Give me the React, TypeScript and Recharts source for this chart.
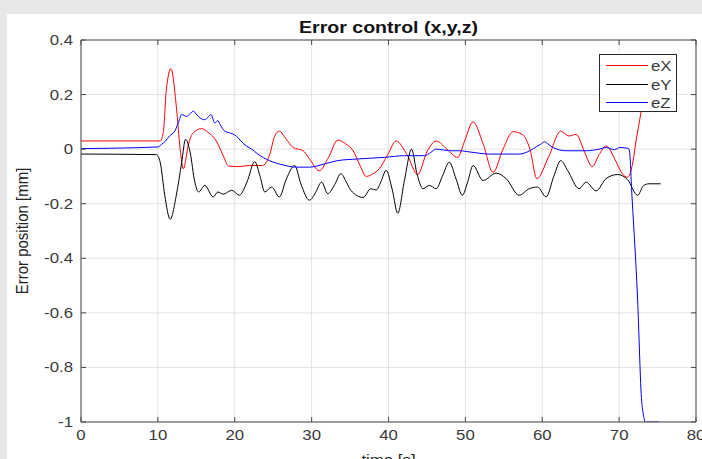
import React from 'react';
import { LineChart, Line, XAxis, YAxis, CartesianGrid, Legend } from 'recharts';

const xTicks = [0, 10, 20, 30, 40, 50, 60, 70, 80];
const yTicks = [-1, -0.8, -0.6, -0.4, -0.2, 0, 0.2, 0.4];
const seriesNames = ['eX', 'eY', 'eZ'];
const seriesColors = ['#ff0000', '#000000', '#0000ff'];

const eXTime = [0, 10.3, 10.7, 11.1, 11.7, 12.4, 12.9, 13.3, 14.0, 14.6, 15.7, 16.6, 17.6, 18.5, 19.2, 20.5, 21.9, 23.6, 24.5, 25.2, 25.8, 26.7, 27.6, 28.9, 29.7, 31.0, 32.2, 33.4, 34.4, 35.4, 36.3, 37.1, 38.0, 38.8, 39.9, 41.0, 42.4, 43.8, 45.0, 46.2, 47.6, 49.0, 49.9, 51.0, 52.3, 53.6, 54.9, 56.2, 57.4, 58.4, 59.3, 60.8, 62.4, 63.5, 64.4, 65.5, 66.5, 67.4, 68.3, 69.6, 70.4, 71.1, 71.7, 72.2, 72.8, 73.4, 74.0];
const eXValue = [0.03, 0.03, 0.06, 0.217, 0.295, 0.157, 0.0, -0.072, 0.02, 0.06, 0.075, 0.06, 0.03, -0.024, -0.062, -0.064, -0.06, -0.06, -0.024, 0.048, 0.066, 0.036, 0.006, -0.006, -0.035, -0.079, -0.03, 0.033, 0.02, -0.006, -0.06, -0.10, -0.09, -0.072, -0.02, 0.03, -0.02, -0.093, -0.01, 0.03, 0.0, -0.03, 0.03, 0.10, 0.02, -0.085, 0.0, 0.064, 0.054, 0.0, -0.108, -0.03, 0.066, 0.048, 0.054, -0.01, -0.064, -0.02, 0.012, -0.046, -0.09, -0.103, -0.06, 0.03, 0.127, 0.22, 0.3];

const eYTime = [0, 9.8, 10.3, 10.9, 11.6, 12.4, 13.1, 13.6, 14.2, 14.8, 15.3, 16.1, 17.2, 17.8, 18.5, 19.6, 20.6, 21.6, 22.6, 23.3, 23.9, 24.8, 25.8, 26.7, 27.8, 28.6, 29.7, 30.5, 31.3, 32.1, 33.0, 33.8, 34.5, 35.1, 36.7, 37.7, 38.4, 39.0, 39.7, 40.5, 41.2, 42.1, 43.0, 43.7, 44.5, 45.3, 46.2, 47.0, 47.9, 48.8, 49.6, 50.3, 51.0, 52.3, 54.0, 55.3, 57.0, 58.3, 59.4, 60.5, 61.5, 62.4, 63.3, 64.8, 65.7, 67.0, 68.3, 69.8, 71.1, 72.4, 73.2, 73.9, 75.4];
const eYValue = [-0.018, -0.02, -0.048, -0.17, -0.257, -0.169, -0.048, 0.036, -0.012, -0.12, -0.157, -0.133, -0.175, -0.157, -0.165, -0.151, -0.169, -0.12, -0.046, -0.10, -0.157, -0.139, -0.175, -0.11, -0.06, -0.127, -0.187, -0.16, -0.121, -0.163, -0.13, -0.09, -0.12, -0.151, -0.177, -0.145, -0.15, -0.12, -0.078, -0.15, -0.235, -0.11, 0.0, -0.09, -0.145, -0.133, -0.145, -0.1, -0.048, -0.11, -0.169, -0.12, -0.06, -0.115, -0.088, -0.108, -0.169, -0.145, -0.139, -0.175, -0.1, -0.042, -0.078, -0.145, -0.121, -0.153, -0.108, -0.093, -0.112, -0.169, -0.133, -0.127, -0.127];

const eZTime = [0, 10.0, 10.5, 11.0, 11.5, 12.2, 12.7, 13.1, 13.7, 14.2, 14.6, 15.1, 15.5, 16.1, 16.6, 16.9, 17.4, 17.8, 18.1, 18.7, 19.3, 20.2, 20.8, 21.5, 22.2, 23.0, 24.5, 26.3, 28.0, 29.7, 31.7, 33.4, 36.0, 39.5, 42.1, 44.7, 45.5, 46.2, 48.1, 49.2, 51.0, 53.1, 57.0, 58.5, 59.3, 59.8, 60.3, 60.7, 61.4, 63.1, 65.7, 67.4, 68.3, 69.4, 70.1, 70.9, 71.3, 71.7, 72.4, 72.9, 73.2, 73.4, 75.2];
const eZValue = [0.002, 0.008, 0.018, 0.03, 0.048, 0.066, 0.1, 0.127, 0.12, 0.13, 0.139, 0.125, 0.114, 0.108, 0.12, 0.127, 0.096, 0.105, 0.09, 0.066, 0.06, 0.048, 0.03, 0.012, 0.0, -0.018, -0.042, -0.058, -0.066, -0.066, -0.054, -0.042, -0.036, -0.03, -0.024, -0.024, -0.012, 0.0, -0.006, -0.006, -0.012, -0.018, -0.018, -0.004, 0.01, 0.018, 0.027, 0.02, 0.006, -0.006, -0.006, 0.0, 0.006, -0.002, 0.006, 0.004, 0.0, -0.187, -0.549, -0.91, -0.98, -1, -1];

const toPoints = (ts: number[], vs: number[]) => ts.map((t, i) => ({ t, v: vs[i] }));
const seriesData = [toPoints(eXTime, eXValue), toPoints(eYTime, eYValue), toPoints(eZTime, eZValue)];

const AXIS = '#4a4a4a';
const TEXT = '#3a3a3a';
const FONT = '"Liberation Sans", Arial, Helvetica, sans-serif';
const SX = 1.12;

const fmt = (v: number) => {
  const r = Math.round(v * 10) / 10;
  return String(r === 0 ? 0 : r);
};

const BottomTick = (props: any) => {
  const { x, y, payload } = props;
  return (
    <g>
      <line x1={x} x2={x} y1={y} y2={y - 5} stroke={AXIS} />
      <text transform={`translate(${x},${y + 18}) scale(${SX},1)`} textAnchor="middle" fontSize={15} fontFamily={FONT} fill={TEXT}>
        {fmt(payload.value)}
      </text>
    </g>
  );
};
const TopTick = (props: any) => {
  const { x, y } = props;
  return <line x1={x} x2={x} y1={y} y2={y + 5} stroke={AXIS} />;
};
const LeftTick = (props: any) => {
  const { x, y, payload } = props;
  return (
    <g>
      <line x1={x} x2={x + 5} y1={y} y2={y} stroke={AXIS} />
      <text transform={`translate(${x - 8},${y + 5}) scale(${SX},1)`} textAnchor="end" fontSize={15} fontFamily={FONT} fill={TEXT}>
        {fmt(payload.value)}
      </text>
    </g>
  );
};
const RightTick = (props: any) => {
  const { x, y } = props;
  return <line x1={x} x2={x - 5} y1={y} y2={y} stroke={AXIS} />;
};

const LegendBox = () => (
  <div style={{ width: 78, height: 58, boxSizing: 'border-box', border: '1px solid #262626', background: '#fff', position: 'relative' }}>
    {seriesNames.map((n, i) => (
      <div key={n} style={{ position: 'absolute', left: 6, top: 3 + i * 18.6, height: 15, display: 'flex', alignItems: 'center' }}>
        <div style={{ width: 42, height: 0, borderTop: `1px solid ${seriesColors[i]}` }} />
        <span style={{ marginLeft: 3, fontSize: 15, lineHeight: '15px', fontFamily: FONT, color: TEXT, display: 'inline-block', transform: `scaleX(${SX})`, transformOrigin: 'left center' }}>{n}</span>
      </div>
    ))}
  </div>
);

export default function App() {
  return (
    <div style={{ position: 'fixed', left: 0, top: 0, width: 702, height: 459, background: '#e6e7e9', overflow: 'hidden' }}>
      <div style={{ position: 'absolute', left: 7, top: 14, right: 0, bottom: 0, background: '#ffffff' }} />
      <div style={{ position: 'absolute', left: 0, top: 0 }}>
        <LineChart width={702} height={459} margin={{ top: 39, right: 0, bottom: 0, left: 0 }}>
          <CartesianGrid stroke="#e2e2e2" />
          <XAxis dataKey="t" type="number" domain={[0, 80]} ticks={xTicks} allowDataOverflow interval={0} height={37} tickSize={0} tickMargin={0} tickLine={false} tick={BottomTick} axisLine={{ stroke: AXIS }} />
          <XAxis xAxisId="top" orientation="top" dataKey="t" type="number" domain={[0, 80]} ticks={xTicks} allowDataOverflow interval={0} height={1} tickSize={0} tickMargin={0} tickLine={false} tick={TopTick} axisLine={{ stroke: AXIS }} />
          <YAxis type="number" domain={[-1, 0.4]} ticks={yTicks} allowDataOverflow interval={0} width={81} tickSize={0} tickMargin={0} tickLine={false} tick={LeftTick} axisLine={{ stroke: AXIS }} />
          <YAxis yAxisId="right" orientation="right" type="number" domain={[-1, 0.4]} ticks={yTicks} allowDataOverflow interval={0} width={6} tickSize={0} tickMargin={0} tickLine={false} tick={RightTick} axisLine={{ stroke: AXIS }} />
          {seriesNames.map((n, i) => (
            <Line key={n} name={n} data={seriesData[i]} dataKey="v" type="monotone" dot={false} activeDot={false} stroke={seriesColors[i]} strokeWidth={1} isAnimationActive={false} />
          ))}
          <Legend layout="horizontal" verticalAlign="middle" align="center" content={LegendBox} wrapperStyle={{ left: 599, top: 54, width: 78, height: 58 }} />
        </LineChart>
      </div>
      <div style={{ position: 'absolute', left: 81, width: 615, top: 18, textAlign: 'center', fontFamily: FONT, fontWeight: 'bold', fontSize: 17, lineHeight: '20px', color: '#111', transform: 'scaleX(1.15)' }}>
        Error control (x,y,z)
      </div>
      <div style={{ position: 'absolute', left: 22, top: 231, transform: 'translate(-50%,-50%) rotate(-90deg) scaleY(1.12)', whiteSpace: 'nowrap', fontFamily: FONT, fontSize: 15, lineHeight: '15px', color: '#222' }}>
        Error position [mm]
      </div>
      <div style={{ position: 'absolute', left: 81, width: 615, top: 452, textAlign: 'center', fontFamily: FONT, fontSize: 15, lineHeight: '15px', color: '#222', transform: 'scaleX(1.12)' }}>
        time [s]
      </div>
    </div>
  );
}
